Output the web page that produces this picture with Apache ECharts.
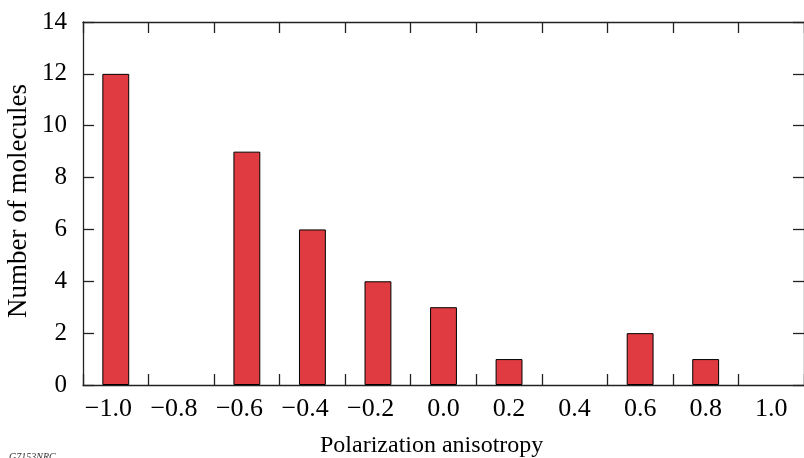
<!DOCTYPE html>
<html>
<head>
<meta charset="utf-8">
<script src="https://cdn.jsdelivr.net/npm/echarts@6/dist/echarts.min.js"></script>
<style>
html,body{margin:0;padding:0;background:#fff;}
#chart{width:804px;height:458px;}
</style>
</head>
<body>
<div id="chart"></div>
<script>
const categories = ['−1.0','−0.8','−0.6','−0.4','−0.2','0.0','0.2','0.4','0.6','0.8','1.0'];
const counts = [12, 0, 9, 6, 4, 3, 1, 0, 2, 1, 0];
const yTicks = { min: 0, max: 14, interval: 2 };
const xTitle = 'Polarization anisotropy';
const yTitle = 'Number of molecules';
const figId = 'G7153NRC';

const FONT = 'Liberation Serif';
const lineStyle = { color: '#222', width: 1.3 };

const chart = echarts.init(document.getElementById('chart'), null, { renderer: 'canvas' });

const xFont = { fontFamily: FONT, fontSize: 26, color: '#000' };
const yFont = { fontFamily: FONT, fontSize: 25, color: '#000' };

chart.setOption({
  animation: false,
  backgroundColor: '#fff',
  grid: { left: 83, top: 22, right: -1, bottom: 73, containLabel: false },
  xAxis: [
    {
      type: 'category', data: categories, position: 'bottom', boundaryGap: true,
      axisLine: { show: true, onZero: false, lineStyle },
      axisTick: { show: true, inside: true, length: 11, interval: 0, lineStyle },
      axisLabel: {
        margin: 11, interval: 0, ...xFont,
        formatter: v => v.startsWith('−') ? `{a|${v}}{h|−}` : `{a|${v}}`,
        rich: { a: { ...xFont }, h: { ...xFont, color: 'rgba(0,0,0,0)' } }
      },
      splitLine: { show: false }
    },
    {
      type: 'category', data: categories, position: 'top', boundaryGap: true,
      axisLine: { show: true, onZero: false, lineStyle },
      axisTick: { show: true, inside: true, length: 11, interval: 0, lineStyle },
      axisLabel: { show: false },
      splitLine: { show: false }
    }
  ],
  yAxis: [
    {
      type: 'value', position: 'left', min: yTicks.min, max: yTicks.max, interval: yTicks.interval,
      axisLine: { show: true, onZero: false, lineStyle },
      axisTick: { show: true, inside: true, length: 11, lineStyle },
      axisLabel: { margin: 16, ...yFont },
      splitLine: { show: false }
    },
    {
      type: 'value', position: 'right', min: yTicks.min, max: yTicks.max, interval: yTicks.interval,
      axisLine: { show: true, onZero: false, lineStyle },
      axisTick: { show: true, inside: true, length: 11, lineStyle },
      axisLabel: { show: false },
      splitLine: { show: false }
    }
  ],
  series: [{
    type: 'bar', xAxisIndex: 0, yAxisIndex: 0,
    data: counts.map(v => (v === 0 ? null : v)),
    barWidth: '41%',
    itemStyle: { color: '#e03b40', borderColor: '#000', borderWidth: 1 }
  }],
  graphic: [
    { type: 'text', left: 320, top: 434, style: { text: xTitle, font: `24px "${FONT}"`, fill: '#000' } },
    { type: 'text', rotation: Math.PI / 2, x: 5, y: 318, style: { text: yTitle, font: `27px "${FONT}"`, fill: '#000' } },
    { type: 'text', left: 9, top: 452, style: { text: figId, font: `italic 10px "${FONT}"`, fill: '#333' } }
  ]
});
</script>
</body>
</html>
